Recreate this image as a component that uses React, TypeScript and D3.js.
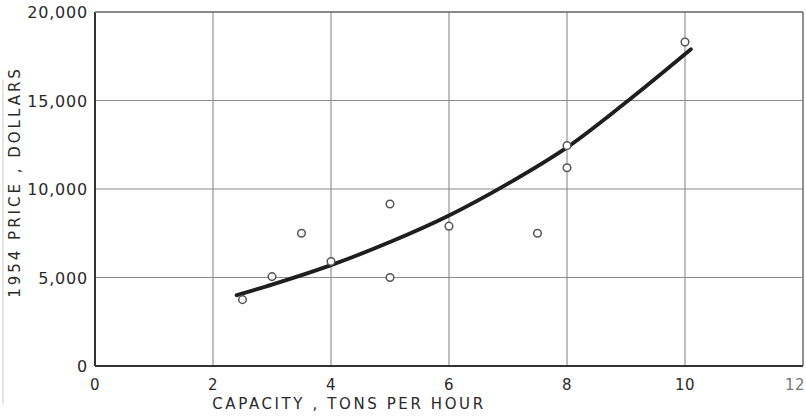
import React from "react";
import * as d3 from "d3";

const xTicks = [0, 2, 4, 6, 8, 10, 12];
const yTicks = [0, 5000, 10000, 15000, 20000];
const yTickLabels = ["0", "5,000", "10,000", "15,000", "20,000"];

const pointCapacity = [2.5, 3.0, 3.5, 4.0, 5.0, 5.0, 6.0, 7.5, 8.0, 8.0, 10.0];
const pointPrice = [3750, 5050, 7500, 5900, 9150, 5000, 7900, 7500, 12450, 11200, 18300];

const curveCapacity = [2.4, 3, 4, 5, 6, 7, 8, 9, 10.1];
const curvePrice = [4000, 4600, 5700, 7000, 8500, 10300, 12350, 14900, 17900];

const W = 806;
const H = 418;
const M = { left: 95, right: 3, top: 12, bottom: 52 };

export default function App() {
  const x = d3.scaleLinear().domain([0, 12]).range([M.left, W - M.right]);
  const y = d3.scaleLinear().domain([0, 20000]).range([H - M.bottom, M.top]);

  const curveData = curveCapacity.map((c, i) => [c, curvePrice[i]] as [number, number]);
  const line = d3
    .line<[number, number]>()
    .x((d) => x(d[0]))
    .y((d) => y(d[1]))
    .curve(d3.curveMonotoneX);

  const font = "'DejaVu Sans', sans-serif";
  const textColor = "#2a2a2a";

  return (
    <svg
      width={W}
      height={H}
      style={{ position: "absolute", left: 0, top: 0, background: "#fff" }}
    >
      <rect x={0} y={0} width={W} height={H} fill="#fff" />
      <line x1={3} x2={3} y1={80} y2={405} stroke="#ccc" strokeWidth={1} />
      {/* grid */}
      {xTicks.map((t) => (
        <line
          key={"gx" + t}
          x1={x(t)}
          x2={x(t)}
          y1={y(0)}
          y2={y(20000)}
          stroke="#8a8a8a"
          strokeWidth={1.1}
        />
      ))}
      {yTicks.map((t) => (
        <line
          key={"gy" + t}
          x1={x(0)}
          x2={x(12)}
          y1={y(t)}
          y2={y(t)}
          stroke="#8a8a8a"
          strokeWidth={1.1}
        />
      ))}
      {/* frame */}
      <line x1={x(0)} x2={x(0)} y1={y(0)} y2={y(20000)} stroke="#333" strokeWidth={2} />
      <line x1={x(0)} x2={x(12)} y1={y(0)} y2={y(0)} stroke="#333" strokeWidth={2.2} />
      <line x1={x(0)} x2={x(12)} y1={y(20000)} y2={y(20000)} stroke="#777" strokeWidth={1.3} />
      <line x1={x(12)} x2={x(12)} y1={y(0)} y2={y(20000)} stroke="#777" strokeWidth={1.3} />

      {/* x tick labels */}
      {xTicks.map((t, i) => (
        <text
          key={"tx" + t}
          x={i === xTicks.length - 1 ? W - 1 : x(t)}
          y={y(0) + 24}
          textAnchor={i === xTicks.length - 1 ? "end" : "middle"}
          fontFamily={font}
          fontSize={15}
          letterSpacing={0.5}
          fill={i === xTicks.length - 1 ? "#777" : textColor}
        >
          {String(t)}
        </text>
      ))}
      {/* y tick labels */}
      {yTicks.map((t, i) => (
        <text
          key={"ty" + t}
          x={x(0) - 7}
          y={y(t) + 6}
          textAnchor="end"
          fontFamily={font}
          fontSize={16}
          letterSpacing={0.8}
          fill={textColor}
        >
          {yTickLabels[i]}
        </text>
      ))}

      {/* curve */}
      <path
        d={line(curveData) || ""}
        fill="none"
        stroke="#1e1e1e"
        strokeWidth={3.8}
        strokeLinecap="round"
      />

      {/* points */}
      {pointCapacity.map((c, i) => (
        <circle
          key={"p" + i}
          cx={x(c)}
          cy={y(pointPrice[i])}
          r={3.8}
          fill="#fff"
          stroke="#555"
          strokeWidth={1.5}
        />
      ))}

      {/* axis titles */}
      <text
        x={349}
        y={409}
        textAnchor="middle"
        fontFamily={font}
        fontSize={15}
        letterSpacing={2.6}
        fill={textColor}
      >
        CAPACITY , TONS PER HOUR
      </text>
      <text
        transform={`translate(20, ${182}) rotate(-90)`}
        textAnchor="middle"
        fontFamily={font}
        fontSize={15}
        letterSpacing={3}
        fill={textColor}
      >
        1954 PRICE , DOLLARS
      </text>
    </svg>
  );
}
